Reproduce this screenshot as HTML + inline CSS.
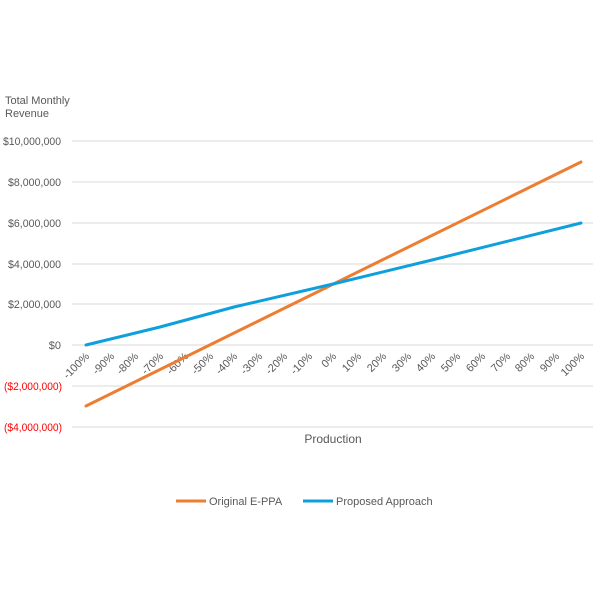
<!DOCTYPE html>
<html><head><style>body{margin:0;background:#fff}</style></head><body>
<svg width="600" height="600" viewBox="0 0 600 600" xmlns="http://www.w3.org/2000/svg" font-family="Liberation Sans, sans-serif">
<rect width="600" height="600" fill="#fff"/>
<text x="5" y="104" font-size="11" fill="#595959">Total Monthly</text>
<text x="5" y="117" font-size="11" fill="#595959">Revenue</text>
<g stroke="#d9d9d9" stroke-width="1">
<line x1="72" x2="593" y1="141" y2="141"/><line x1="72" x2="593" y1="182" y2="182"/>
<line x1="72" x2="593" y1="223" y2="223"/><line x1="72" x2="593" y1="264" y2="264"/>
<line x1="72" x2="593" y1="304" y2="304"/><line x1="72" x2="593" y1="345" y2="345"/>
<line x1="72" x2="593" y1="386" y2="386"/><line x1="72" x2="593" y1="427" y2="427"/>
</g>
<g font-size="11" fill="#595959">
<text x="3" y="145" textLength="58" lengthAdjust="spacingAndGlyphs">$10,000,000</text>
<text x="8" y="186" textLength="53" lengthAdjust="spacingAndGlyphs">$8,000,000</text>
<text x="8" y="227" textLength="53" lengthAdjust="spacingAndGlyphs">$6,000,000</text>
<text x="8" y="268" textLength="53" lengthAdjust="spacingAndGlyphs">$4,000,000</text>
<text x="8" y="308" textLength="53" lengthAdjust="spacingAndGlyphs">$2,000,000</text>
<text x="61" y="349" text-anchor="end">$0</text>
<text x="4" y="390" fill="#ff0000" textLength="58" lengthAdjust="spacingAndGlyphs">($2,000,000)</text>
<text x="4" y="431" fill="#ff0000" textLength="58" lengthAdjust="spacingAndGlyphs">($4,000,000)</text>
</g>
<g font-size="11" fill="#595959" text-anchor="end">
<text transform="translate(90,357) rotate(-45)">-100%</text>
<text transform="translate(115,357) rotate(-45)">-90%</text>
<text transform="translate(139,357) rotate(-45)">-80%</text>
<text transform="translate(164,357) rotate(-45)">-70%</text>
<text transform="translate(189,357) rotate(-45)">-60%</text>
<text transform="translate(214,357) rotate(-45)">-50%</text>
<text transform="translate(238,357) rotate(-45)">-40%</text>
<text transform="translate(263,357) rotate(-45)">-30%</text>
<text transform="translate(288,357) rotate(-45)">-20%</text>
<text transform="translate(313,357) rotate(-45)">-10%</text>
<text transform="translate(337,357) rotate(-45)">0%</text>
<text transform="translate(362,357) rotate(-45)">10%</text>
<text transform="translate(387,357) rotate(-45)">20%</text>
<text transform="translate(412,357) rotate(-45)">30%</text>
<text transform="translate(436,357) rotate(-45)">40%</text>
<text transform="translate(461,357) rotate(-45)">50%</text>
<text transform="translate(486,357) rotate(-45)">60%</text>
<text transform="translate(511,357) rotate(-45)">70%</text>
<text transform="translate(535,357) rotate(-45)">80%</text>
<text transform="translate(560,357) rotate(-45)">90%</text>
<text transform="translate(585,357) rotate(-45)">100%</text>
</g>
<polyline points="86,406 581,162" stroke="#ed7d31" stroke-width="3" fill="none" stroke-linecap="round"/>
<polyline points="86,345 160,327 234,307 333,284 432,260 581,223" stroke="#0ea0dc" stroke-width="3" fill="none" stroke-linecap="round" stroke-linejoin="round"/>
<text x="333" y="443" font-size="12" fill="#595959" text-anchor="middle">Production</text>
<line x1="176" x2="206" y1="501" y2="501" stroke="#ed7d31" stroke-width="3"/>
<text x="209" y="505" font-size="11" fill="#595959">Original E-PPA</text>
<line x1="303" x2="333" y1="501" y2="501" stroke="#0ea0dc" stroke-width="3"/>
<text x="336" y="505" font-size="11" fill="#595959">Proposed Approach</text>
</svg>
</body></html>
